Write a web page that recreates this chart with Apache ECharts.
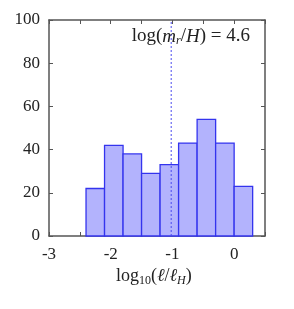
<!DOCTYPE html>
<html><head><meta charset="utf-8">
<script src="https://cdn.jsdelivr.net/npm/echarts@6/dist/echarts.min.js"></script>
<style>html,body{margin:0;padding:0;background:#fff}#c{width:294px;height:309px}</style>
</head><body><div id="c"></div>
<script>
var binStarts = [-2.4, -2.1, -1.8, -1.5, -1.2, -0.9, -0.6, -0.3, 0.0];
var binWidth = 0.3;
var counts = [22, 42, 38, 29, 33, 43, 54, 43, 23];
var refLineX = -1.02;
var xTickLabels = ['-3', '-2', '-1', '0'];
var yTicks = [0, 20, 40, 60, 80, 100];

var FONT = 'Liberation Serif';
var frame = '#555555';
var chart = echarts.init(document.getElementById('c'), null, {renderer: 'canvas'});
var barData = binStarts.map(function (s, i) { return [s, s + binWidth, counts[i]]; });

function axisCommon() {
  return {
    axisLine: {show: true, onZero: false, lineStyle: {color: frame, width: 1.5}},
    axisTick: {show: true, inside: true, length: 4, lineStyle: {color: frame, width: 1}},
    splitLine: {show: false}
  };
}

chart.setOption({
  animation: false,
  grid: {left: 49, right: 29, top: 20, bottom: 73, containLabel: false},
  xAxis: [
    Object.assign({type: 'value', min: -3, max: 0.5, interval: 0.5, position: 'bottom',
      axisLabel: {fontFamily: FONT, fontSize: 17, color: '#222', margin: 10,
        formatter: function (v) {
          var r = Math.round(v);
          if (Math.abs(v - r) < 1e-9 && r <= 0) { return xTickLabels[r + 3]; }
          return '';
        }}
    }, axisCommon()),
    Object.assign({type: 'value', min: -3, max: 0.5, interval: 0.5, position: 'top',
      axisLabel: {show: false}}, axisCommon())
  ],
  yAxis: [
    Object.assign({type: 'value', min: 0, max: 100, interval: 20, position: 'left',
      axisLabel: {fontFamily: FONT, fontSize: 17, color: '#222', margin: 9}}, axisCommon()),
    Object.assign({type: 'value', min: 0, max: 100, interval: 20, position: 'right',
      axisLabel: {show: false}}, axisCommon())
  ],
  series: [
    {
      type: 'custom',
      xAxisIndex: 0, yAxisIndex: 0,
      data: barData,
      renderItem: function (params, api) {
        var p0 = api.coord([api.value(0), 0]);
        var p1 = api.coord([api.value(1), api.value(2)]);
        return {
          type: 'rect',
          shape: {x: p0[0], y: p1[1], width: p1[0] - p0[0], height: p0[1] - p1[1]},
          style: {fill: '#b3b3fd', stroke: '#3434ee', lineWidth: 1.3}
        };
      },
      z: 2
    },
    {
      type: 'line',
      xAxisIndex: 0, yAxisIndex: 0,
      data: [[refLineX, 0], [refLineX, 100]],
      symbol: 'none',
      lineStyle: {color: '#4a4af0', width: 1, type: [2, 2]},
      z: 3
    }
  ],
  graphic: [
    {
      type: 'text', right: 44, top: 27, z: 10,
      style: {
        text: '{n|log(}{i|m}{s|r}{n|/}{i|H}{n|) = 4.6}',
        rich: {
          n: {fontFamily: FONT, fontSize: 19, fill: '#222'},
          i: {fontFamily: FONT, fontSize: 19, fontStyle: 'italic', fill: '#222'},
          s: {fontFamily: FONT, fontSize: 12, fontStyle: 'italic', fill: '#222', padding: [9, 0, 0, 0]}
        }
      }
    },
    {
      type: 'text', left: 116, top: 267, z: 10,
      style: {
        text: '{n|log}{s|10}{n|(}{i|ℓ}{n|/}{i|ℓ}{si|H}{n|)}',
        rich: {
          n: {fontFamily: FONT, fontSize: 18, fill: '#222'},
          i: {fontFamily: FONT, fontSize: 18, fontStyle: 'italic', fill: '#222'},
          s: {fontFamily: FONT, fontSize: 12, fill: '#222', padding: [9, 0, 0, 0]},
          si: {fontFamily: FONT, fontSize: 12, fontStyle: 'italic', fill: '#222', padding: [9, 0, 0, 0]}
        }
      }
    }
  ]
});
</script></body></html>
